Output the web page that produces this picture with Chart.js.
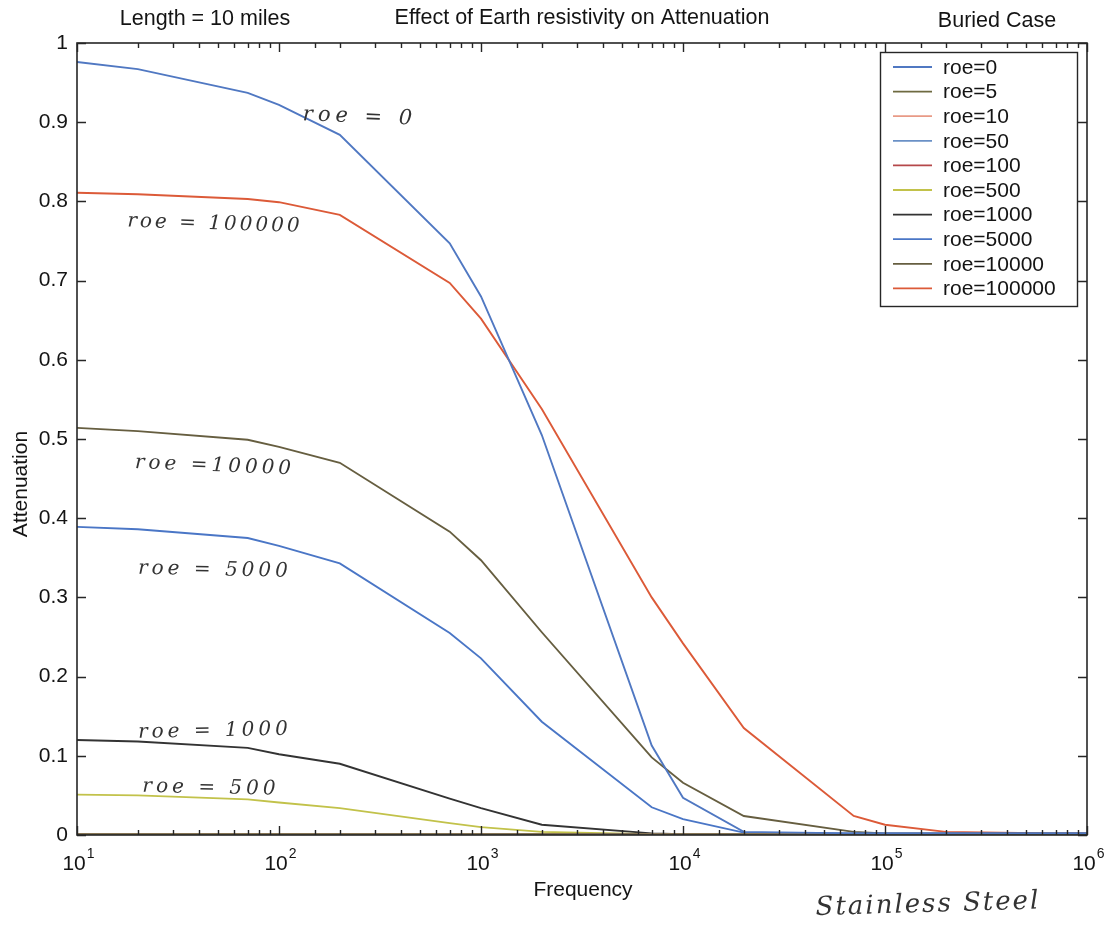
<!DOCTYPE html>
<html>
<head>
<meta charset="utf-8">
<title>Effect of Earth resistivity on Attenuation</title>
<script src="https://cdn.jsdelivr.net/npm/chart.js@4.4.1/dist/chart.umd.min.js"></script>
<style>
    html, body { margin: 0; padding: 0; background: #fff; }
    #wrap { width: 1112px; height: 928px; position: relative; }
</style>
</head>
<body>
<div id="wrap"><canvas id="atten" width="1112" height="928"></canvas></div>
<script>
// frequency samples (Hz)
const freq = [10, 20, 70, 100, 200, 700, 1000, 2000, 7000, 10000, 20000, 70000, 100000, 200000, 700000, 1000000];

// attenuation for each earth resistivity
const roe0      = [0.976, 0.967, 0.937, 0.922, 0.884, 0.747, 0.680, 0.505, 0.113, 0.047, 0.004, 0.002, 0.002, 0.002, 0.002, 0.002];
const roe5      = [0.001, 0.001, 0.001, 0.001, 0.001, 0.001, 0.001, 0.001, 0.001, 0.001, 0.001, 0.001, 0.001, 0.001, 0.001, 0.001];
const roe10     = [0.001, 0.001, 0.001, 0.001, 0.001, 0.001, 0.001, 0.001, 0.001, 0.001, 0.001, 0.001, 0.001, 0.001, 0.001, 0.001];
const roe50     = [0.001, 0.001, 0.001, 0.001, 0.001, 0.001, 0.001, 0.001, 0.001, 0.001, 0.001, 0.001, 0.001, 0.001, 0.001, 0.001];
const roe100    = [0.001, 0.001, 0.001, 0.001, 0.001, 0.001, 0.001, 0.001, 0.001, 0.001, 0.001, 0.001, 0.001, 0.001, 0.001, 0.001];
const roe500    = [0.051, 0.050, 0.045, 0.041, 0.034, 0.015, 0.010, 0.004, 0.001, 0.001, 0.001, 0.001, 0.001, 0.001, 0.001, 0.001];
const roe1000   = [0.120, 0.118, 0.110, 0.102, 0.090, 0.046, 0.034, 0.013, 0.002, 0.001, 0.001, 0.001, 0.001, 0.001, 0.001, 0.001];
const roe5000   = [0.389, 0.386, 0.375, 0.365, 0.343, 0.255, 0.223, 0.143, 0.035, 0.020, 0.003, 0.002, 0.002, 0.002, 0.002, 0.002];
const roe10000  = [0.514, 0.510, 0.499, 0.490, 0.470, 0.383, 0.347, 0.256, 0.098, 0.066, 0.024, 0.004, 0.002, 0.002, 0.002, 0.002];
const roe100000 = [0.811, 0.809, 0.803, 0.799, 0.783, 0.697, 0.652, 0.538, 0.300, 0.242, 0.135, 0.024, 0.013, 0.004, 0.002, 0.002];

const seriesNames = ['roe=0', 'roe=5', 'roe=10', 'roe=50', 'roe=100', 'roe=500', 'roe=1000', 'roe=5000', 'roe=10000', 'roe=100000'];
const seriesValues = [roe0, roe5, roe10, roe50, roe100, roe500, roe1000, roe5000, roe10000, roe100000];
const seriesColors = ['#5078c2', '#6e6a40', '#e89a86', '#6a90c6', '#b5484a', '#c2c24a', '#333333', '#4a76c6', '#665e40', '#dc5a38'];

// decade labels on the frequency axis
const freqDecades = [1e1, 1e2, 1e3, 1e4, 1e5, 1e6];
const attenTicks = [0, 0.1, 0.2, 0.3, 0.4, 0.5, 0.6, 0.7, 0.8, 0.9, 1];

// hand-written notes next to the curves
const notes = [
    { text: 'roe = 0', x: 360, y: 117, rot: 0.04, size: 21, gap: 5 },
    { text: 'roe = 100000', x: 215, y: 224, rot: 0.03, size: 20, gap: 3 },
    { text: 'roe =10000', x: 215, y: 466, rot: 0.04, size: 20, gap: 4 },
    { text: 'roe = 5000', x: 215, y: 570, rot: 0.02, size: 20, gap: 4 },
    { text: 'roe = 1000', x: 215, y: 731, rot: -0.02, size: 20, gap: 4 },
    { text: 'roe = 500', x: 211, y: 788, rot: 0.02, size: 20, gap: 4 }
];

const FONT = '"Liberation Sans", Arial, sans-serif';
const HAND = '"DejaVu Serif", serif';
const INK = '#141414';

const framePlugin = {
    id: 'matlabFrame',
    afterDatasetsDraw(chart) {
        const { ctx, chartArea: a, scales } = chart;
        const xs = scales.x, ys = scales.y;
        ctx.save();

        // axes box
        ctx.strokeStyle = '#262626';
        ctx.lineWidth = 1.6;
        ctx.strokeRect(a.left, a.top, a.right - a.left, a.bottom - a.top);

        // inward tick marks on all four sides
        ctx.lineWidth = 1.4;
        ctx.beginPath();
        xs.ticks.forEach(t => {
            const px = Math.round(xs.getPixelForValue(t.value)) + 0.5;
            const major = Math.abs(Math.log10(t.value) - Math.round(Math.log10(t.value))) < 1e-9;
            const len = major ? 9 : 5;
            ctx.moveTo(px, a.bottom); ctx.lineTo(px, a.bottom - len);
            ctx.moveTo(px, a.top); ctx.lineTo(px, a.top + len);
        });
        attenTicks.forEach(v => {
            const py = Math.round(ys.getPixelForValue(v)) + 0.5;
            ctx.moveTo(a.left, py); ctx.lineTo(a.left + 9, py);
            ctx.moveTo(a.right, py); ctx.lineTo(a.right - 9, py);
        });
        ctx.stroke();

        // decade labels 10^n
        ctx.fillStyle = INK;
        freqDecades.forEach(v => {
            const px = xs.getPixelForValue(v);
            const exp = String(Math.round(Math.log10(v)));
            ctx.font = '21px ' + FONT;
            const wb = ctx.measureText('10').width;
            ctx.font = '14px ' + FONT;
            const we = ctx.measureText(exp).width;
            const x0 = px - (wb + we) / 2 + 1;
            ctx.textAlign = 'left';
            ctx.textBaseline = 'alphabetic';
            ctx.font = '21px ' + FONT;
            ctx.fillText('10', x0, a.bottom + 35);
            ctx.font = '14px ' + FONT;
            ctx.fillText(exp, x0 + wb + 1, a.bottom + 23);
        });

        // titles
        ctx.font = '21.5px ' + FONT;
        ctx.textAlign = 'center';
        ctx.textBaseline = 'middle';
        ctx.fillText('Length = 10 miles', 205, 19);
        ctx.fillText('Effect of Earth resistivity on Attenuation', 582, 18);
        ctx.fillText('Buried Case', 997, 21);
        ctx.font = '21px ' + FONT;
        ctx.fillText('Frequency', 583, 890);
        ctx.save();
        ctx.translate(21, 484);
        ctx.rotate(-Math.PI / 2);
        ctx.fillText('Attenuation', 0, 0);
        ctx.restore();

        // legend box
        const lx = 880, ly = 52, lw = 197, lh = 254, row = 24.6;
        ctx.fillStyle = '#fff';
        ctx.fillRect(lx, ly, lw, lh);
        ctx.strokeStyle = '#262626';
        ctx.lineWidth = 1.4;
        ctx.strokeRect(lx + 0.5, ly + 0.5, lw, lh);
        chart.data.datasets.forEach((ds, i) => {
            const y = ly + 15 + i * row;
            ctx.strokeStyle = ds.borderColor;
            ctx.lineWidth = 1.8;
            ctx.beginPath();
            ctx.moveTo(lx + 13, y); ctx.lineTo(lx + 52, y);
            ctx.stroke();
            ctx.fillStyle = INK;
            ctx.font = '21px ' + FONT;
            ctx.textAlign = 'left';
            ctx.fillText(ds.label, lx + 63, y + 1);
        });

        // hand-written notes
        ctx.fillStyle = '#333';
        ctx.textAlign = 'center';
        notes.forEach(n => {
            ctx.save();
            ctx.font = 'italic ' + n.size + 'px ' + HAND;
            ctx.letterSpacing = n.gap + 'px';
            ctx.translate(n.x, n.y);
            ctx.rotate(n.rot);
            ctx.fillText(n.text, 0, 0);
            ctx.restore();
        });
        ctx.save();
        ctx.font = 'italic 26px ' + HAND;
        ctx.letterSpacing = '2px';
        ctx.translate(928, 905);
        ctx.rotate(-0.03);
        ctx.fillText('Stainless Steel', 0, 0);
        ctx.restore();

        ctx.restore();
    }
};

new Chart(document.getElementById('atten'), {
    type: 'line',
    data: {
        datasets: seriesNames.map((name, i) => ({
            label: name,
            data: freq.map((f, j) => ({ x: f, y: seriesValues[i][j] })),
            borderColor: seriesColors[i],
            borderWidth: 1.9,
            pointRadius: 0,
            tension: 0,
            fill: false
        }))
    },
    options: {
        responsive: false,
        animation: false,
        devicePixelRatio: 1,
        layout: { padding: { left: 0, top: 43, right: 25, bottom: 0 } },
        plugins: {
            legend: { display: false },
            tooltip: { enabled: false }
        },
        scales: {
            x: {
                type: 'logarithmic',
                min: 10,
                max: 1e6,
                grid: { display: false, drawTicks: false },
                border: { display: false },
                ticks: { display: false, autoSkip: false },
                afterFit(scale) { scale.height = 93; }
            },
            y: {
                min: 0,
                max: 1,
                grid: { display: false, drawTicks: false },
                border: { display: false },
                ticks: {
                    stepSize: 0.1,
                    padding: 9,
                    color: INK,
                    font: { family: FONT, size: 21 },
                    callback: v => String(Math.round(v * 10) / 10)
                },
                afterFit(scale) { scale.width = 77; }
            }
        }
    },
    plugins: [framePlugin]
});
</script>
</body>
</html>
